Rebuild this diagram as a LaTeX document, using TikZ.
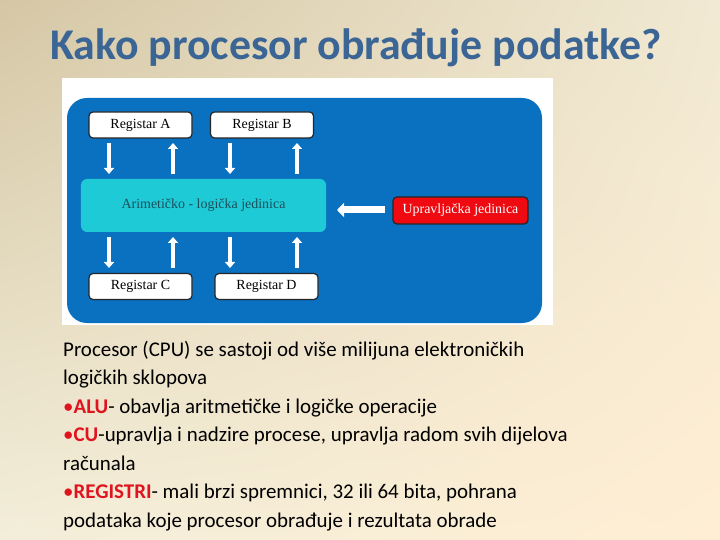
\documentclass[tikz,border=0pt]{standalone}
\usepackage{fontspec}
\setmainfont{Carlito}
\newfontfamily\diag{Liberation Serif}
\usetikzlibrary{arrows.meta,shadings}
\definecolor{bgTL}{HTML}{D5C7A5}
\definecolor{bgTR}{HTML}{F1E9D3}
\definecolor{bgBL}{HTML}{F3EEDA}
\definecolor{bgBR}{HTML}{FFEED3}
\definecolor{titleblue}{HTML}{3B6594}
\definecolor{cpublue}{HTML}{0A70C0}
\definecolor{alucyan}{HTML}{1ECAD6}
\definecolor{alutext}{HTML}{1B4F5C}
\definecolor{cured}{HTML}{EE0A10}
\definecolor{hlred}{HTML}{E0141E}
\tikzset{
  regbox/.style={draw=black!85, line width=1.2bp, fill=white, rounded corners=4bp, minimum width=103bp, minimum height=26bp, inner sep=0pt, font=\diag\fontsize{14}{16}\selectfont},
  wArrow/.style={draw=white, line width=4.5bp, -{Triangle[width=10bp,length=6bp]}},
  bodyline/.style={anchor=base west, inner sep=0pt, font=\fontsize{21}{25}\selectfont},
}
\newcommand{\hl}[1]{{\color{hlred}•\bfseries #1}}
\begin{document}
\begin{tikzpicture}[x=1bp,y=-1bp]
\useasboundingbox (0,0) rectangle (720,540);
\shade[upper left=bgTL, upper right=bgTR, lower left=bgBL, lower right=bgBR] (0,0) rectangle (720,540);
% title
\node[anchor=base, inner sep=0pt, text=titleblue, font=\bfseries\fontsize{44}{50}\selectfont] (title) at (356,60) {Kako procesor obrađuje podatke?};
% diagram image area
\fill[white] (62,78) rectangle (553,325);
\fill[cpublue, rounded corners=20bp] (67,98) rectangle (542,323);
% registers
\node[regbox] (ra) at (140.5,125) {Registar A};
\node[regbox] (rb) at (262,125) {Registar B};
\node[regbox] (rc) at (140.5,286.5) {Registar C};
\node[regbox] (rd) at (266.5,286.5) {Registar D};
% ALU
\node[fill=alucyan, rounded corners=6bp, minimum width=245bp, minimum height=53bp, inner sep=0pt, text=alutext, font=\diag\fontsize{14}{16}\selectfont] (alu) at (203.5,205.5) {Arimetičko - logička jedinica};
% CU
\node[draw=black!85, line width=1.2bp, fill=cured, rounded corners=4bp, minimum width=135bp, minimum height=27bp, inner sep=0pt, text=white, font=\diag\fontsize{14}{16}\selectfont] (cu) at (460.5,210.5) {Upravljačka jedinica};
% arrows top
\coordinate (a1s) at (109,143); \coordinate (a1e) at (109,174);
\coordinate (a2s) at (173,174); \coordinate (a2e) at (173,143);
\coordinate (a3s) at (230,143); \coordinate (a3e) at (230,174);
\coordinate (a4s) at (297,174); \coordinate (a4e) at (297,143);
\draw[wArrow] (a1s) -- (a1e);
\draw[wArrow] (a2s) -- (a2e);
\draw[wArrow] (a3s) -- (a3e);
\draw[wArrow] (a4s) -- (a4e);
% arrows bottom
\coordinate (b1s) at (109,237); \coordinate (b1e) at (109,268);
\coordinate (b2s) at (173,268); \coordinate (b2e) at (173,237);
\coordinate (b3s) at (230,237); \coordinate (b3e) at (230,268);
\coordinate (b4s) at (297,268); \coordinate (b4e) at (297,237);
\draw[wArrow] (b1s) -- (b1e);
\draw[wArrow] (b2s) -- (b2e);
\draw[wArrow] (b3s) -- (b3e);
\draw[wArrow] (b4s) -- (b4e);
% CU -> ALU
\coordinate (cs) at (385,210); \coordinate (ce) at (337,210);
\draw[draw=white, line width=7bp, -{Triangle[width=14bp,length=7bp]}] (cs) -- (ce);
% body text
\node[bodyline] (l1) at (63,356) {Procesor (CPU) se sastoji od više milijuna elektroničkih};
\node[bodyline] (l2) at (63,384.5) {logičkih sklopova};
\node[bodyline] (l3) at (63,413) {\hl{ALU}- obavlja aritmetičke i logičke operacije};
\node[bodyline] (l4) at (63,441.5) {\hl{CU}-upravlja i nadzire procese, upravlja radom svih dijelova};
\node[bodyline] (l5) at (63,470) {računala};
\node[bodyline] (l6) at (63,498.5) {\hl{REGISTRI}- mali brzi spremnici, 32 ili 64 bita, pohrana};
\node[bodyline] (l7) at (63,527) {podataka koje procesor obrađuje i rezultata obrade};
\end{tikzpicture}
\end{document}
